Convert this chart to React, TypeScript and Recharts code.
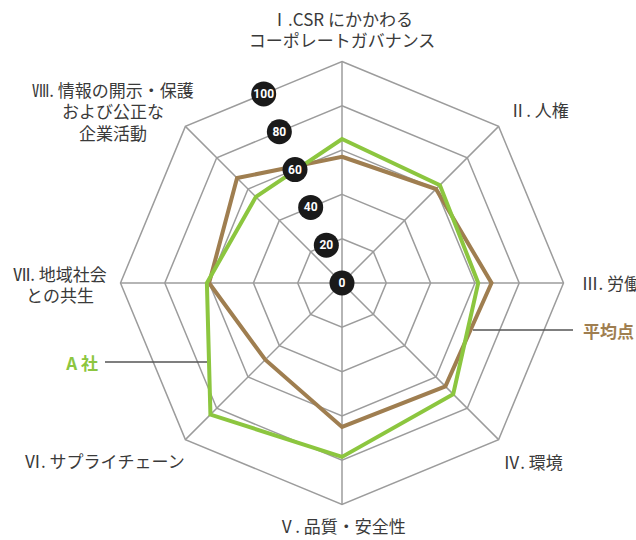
import { RadarChart, Radar, PolarGrid, PolarAngleAxis, PolarRadiusAxis } from 'recharts'

const axisLabels = [
  ['Ⅰ.CSR にかかわる', 'コーポレートガバナンス'],
  ['Ⅱ. 人権'],
  ['Ⅲ. 労働'],
  ['Ⅳ. 環境'],
  ['Ⅴ. 品質・安全性'],
  ['Ⅵ. サプライチェーン'],
  ['Ⅶ. 地域社会', 'との共生'],
  ['Ⅷ. 情報の開示・保護', 'および公正な', '企業活動'],
]
const companyA = [65, 62.5, 61.5, 71, 78.5, 84, 61, 55]
const average = [57, 60, 67.5, 66, 65, 49, 60, 67]
const radiusTicks = [0, 20, 40, 60, 80, 100]

const data = axisLabels.map((lines, i) => ({
  axis: lines.join(''),
  a: companyA[i],
  avg: average[i],
}))

const CX = 342
const CY = 283
const R = 221.5
const FONT = "'Noto Sans CJK JP', 'Noto Sans', sans-serif"
const GREEN = '#8cc63f'
const BROWN = '#9f7e50'
const GRID = '#9c9c9c'

// where each category label sits relative to the tick point
const labelLayout = [
  { dx: 0, dy: -35.5, anchor: 'middle' },
  { dx: 5, dy: -11, anchor: 'start' },
  { dx: 10, dy: -1, anchor: 'start' },
  { dx: -1, dy: 16, anchor: 'start' },
  { dx: 0, dy: 12.5, anchor: 'middle' },
  { dx: 5, dy: 15, anchor: 'end' },
  { dx: -52.5, dy: -10, anchor: 'middle' },
  { dx: -66.7, dy: -31.7, anchor: 'middle' },
]

function AngleTick(props: any) {
  const { x, y, payload, index } = props
  const i = index ?? data.findIndex((d) => d.axis === payload.value)
  const lines = axisLabels[i] || [String(payload.value)]
  const l = labelLayout[i] || { dx: 0, dy: 0, anchor: 'middle' }
  return (
    <text
      x={x + l.dx}
      y={y + l.dy}
      textAnchor={l.anchor}
      fontFamily={FONT}
      fontSize={17}
      fill="#3a3a3a"
    >
      {lines.map((t, k) => (
        <tspan key={k} x={x + l.dx} y={y + l.dy + k * 21.5} dominantBaseline="central">
          {t}
        </tspan>
      ))}
    </text>
  )
}

function RadiusTick(props: any) {
  const { x, y, payload } = props
  // pull badge in onto the polygon edge midpoint
  const k = Math.cos(Math.PI / 8)
  const bx = CX + (x - CX) * k
  const by = CY + (y - CY) * k
  return (
    <g>
      <circle cx={bx} cy={by} r={12.5} fill="#1a1a1a" />
      <text
        x={bx}
        y={by}
        textAnchor="middle"
        dominantBaseline="central"
        fontFamily="'Liberation Sans Narrow', 'Roboto', sans-serif"
        fontWeight={700}
        fontSize={12}
        fill="#fff"
      >
        {payload.value}
      </text>
    </g>
  )
}

export default function App() {
  return (
    <div style={{ position: 'absolute', left: 0, top: 0, width: 636, height: 540, background: '#fff' }}>
      <RadarChart
        width={636}
        height={540}
        data={data}
        cx={CX}
        cy={CY}
        outerRadius={R}
        margin={{ top: 0, right: 0, bottom: 0, left: 0 }}
      >
        <PolarGrid gridType="polygon" stroke={GRID} strokeWidth={1.5} strokeOpacity={1} />
        <PolarAngleAxis dataKey="axis" tick={<AngleTick />} tickLine={false} axisLine={false} />
        <Radar
          dataKey="avg"
          stroke={BROWN}
          strokeWidth={4}
          fill="none"
          fillOpacity={0}
          dot={false}
          isAnimationActive={false}
        />
        <Radar
          dataKey="a"
          stroke={GREEN}
          strokeWidth={4}
          fill="none"
          fillOpacity={0}
          dot={false}
          isAnimationActive={false}
        />
        <PolarRadiusAxis
          angle={112.5}
          domain={[0, 100]}
          ticks={radiusTicks}
          tickCount={6}
          tick={<RadiusTick />}
          axisLine={false}
          tickLine={false}
        />
      </RadarChart>
      <svg
        width={636}
        height={540}
        style={{ position: 'absolute', left: 0, top: 0, pointerEvents: 'none' }}
      >
        <line x1={105} y1={362} x2={207} y2={362} stroke="#555" strokeWidth={1.5} />
        <text x={98} y={362} textAnchor="end" dominantBaseline="central" fontFamily={FONT} fontSize={17} fontWeight={700} fill={GREEN}>
          A 社
        </text>
        <line x1={473} y1={330} x2={573} y2={330} stroke="#555" strokeWidth={1.5} />
        <text x={583} y={330} dominantBaseline="central" fontFamily={FONT} fontSize={17} fontWeight={700} fill={BROWN}>
          平均点
        </text>
      </svg>
    </div>
  )
}
